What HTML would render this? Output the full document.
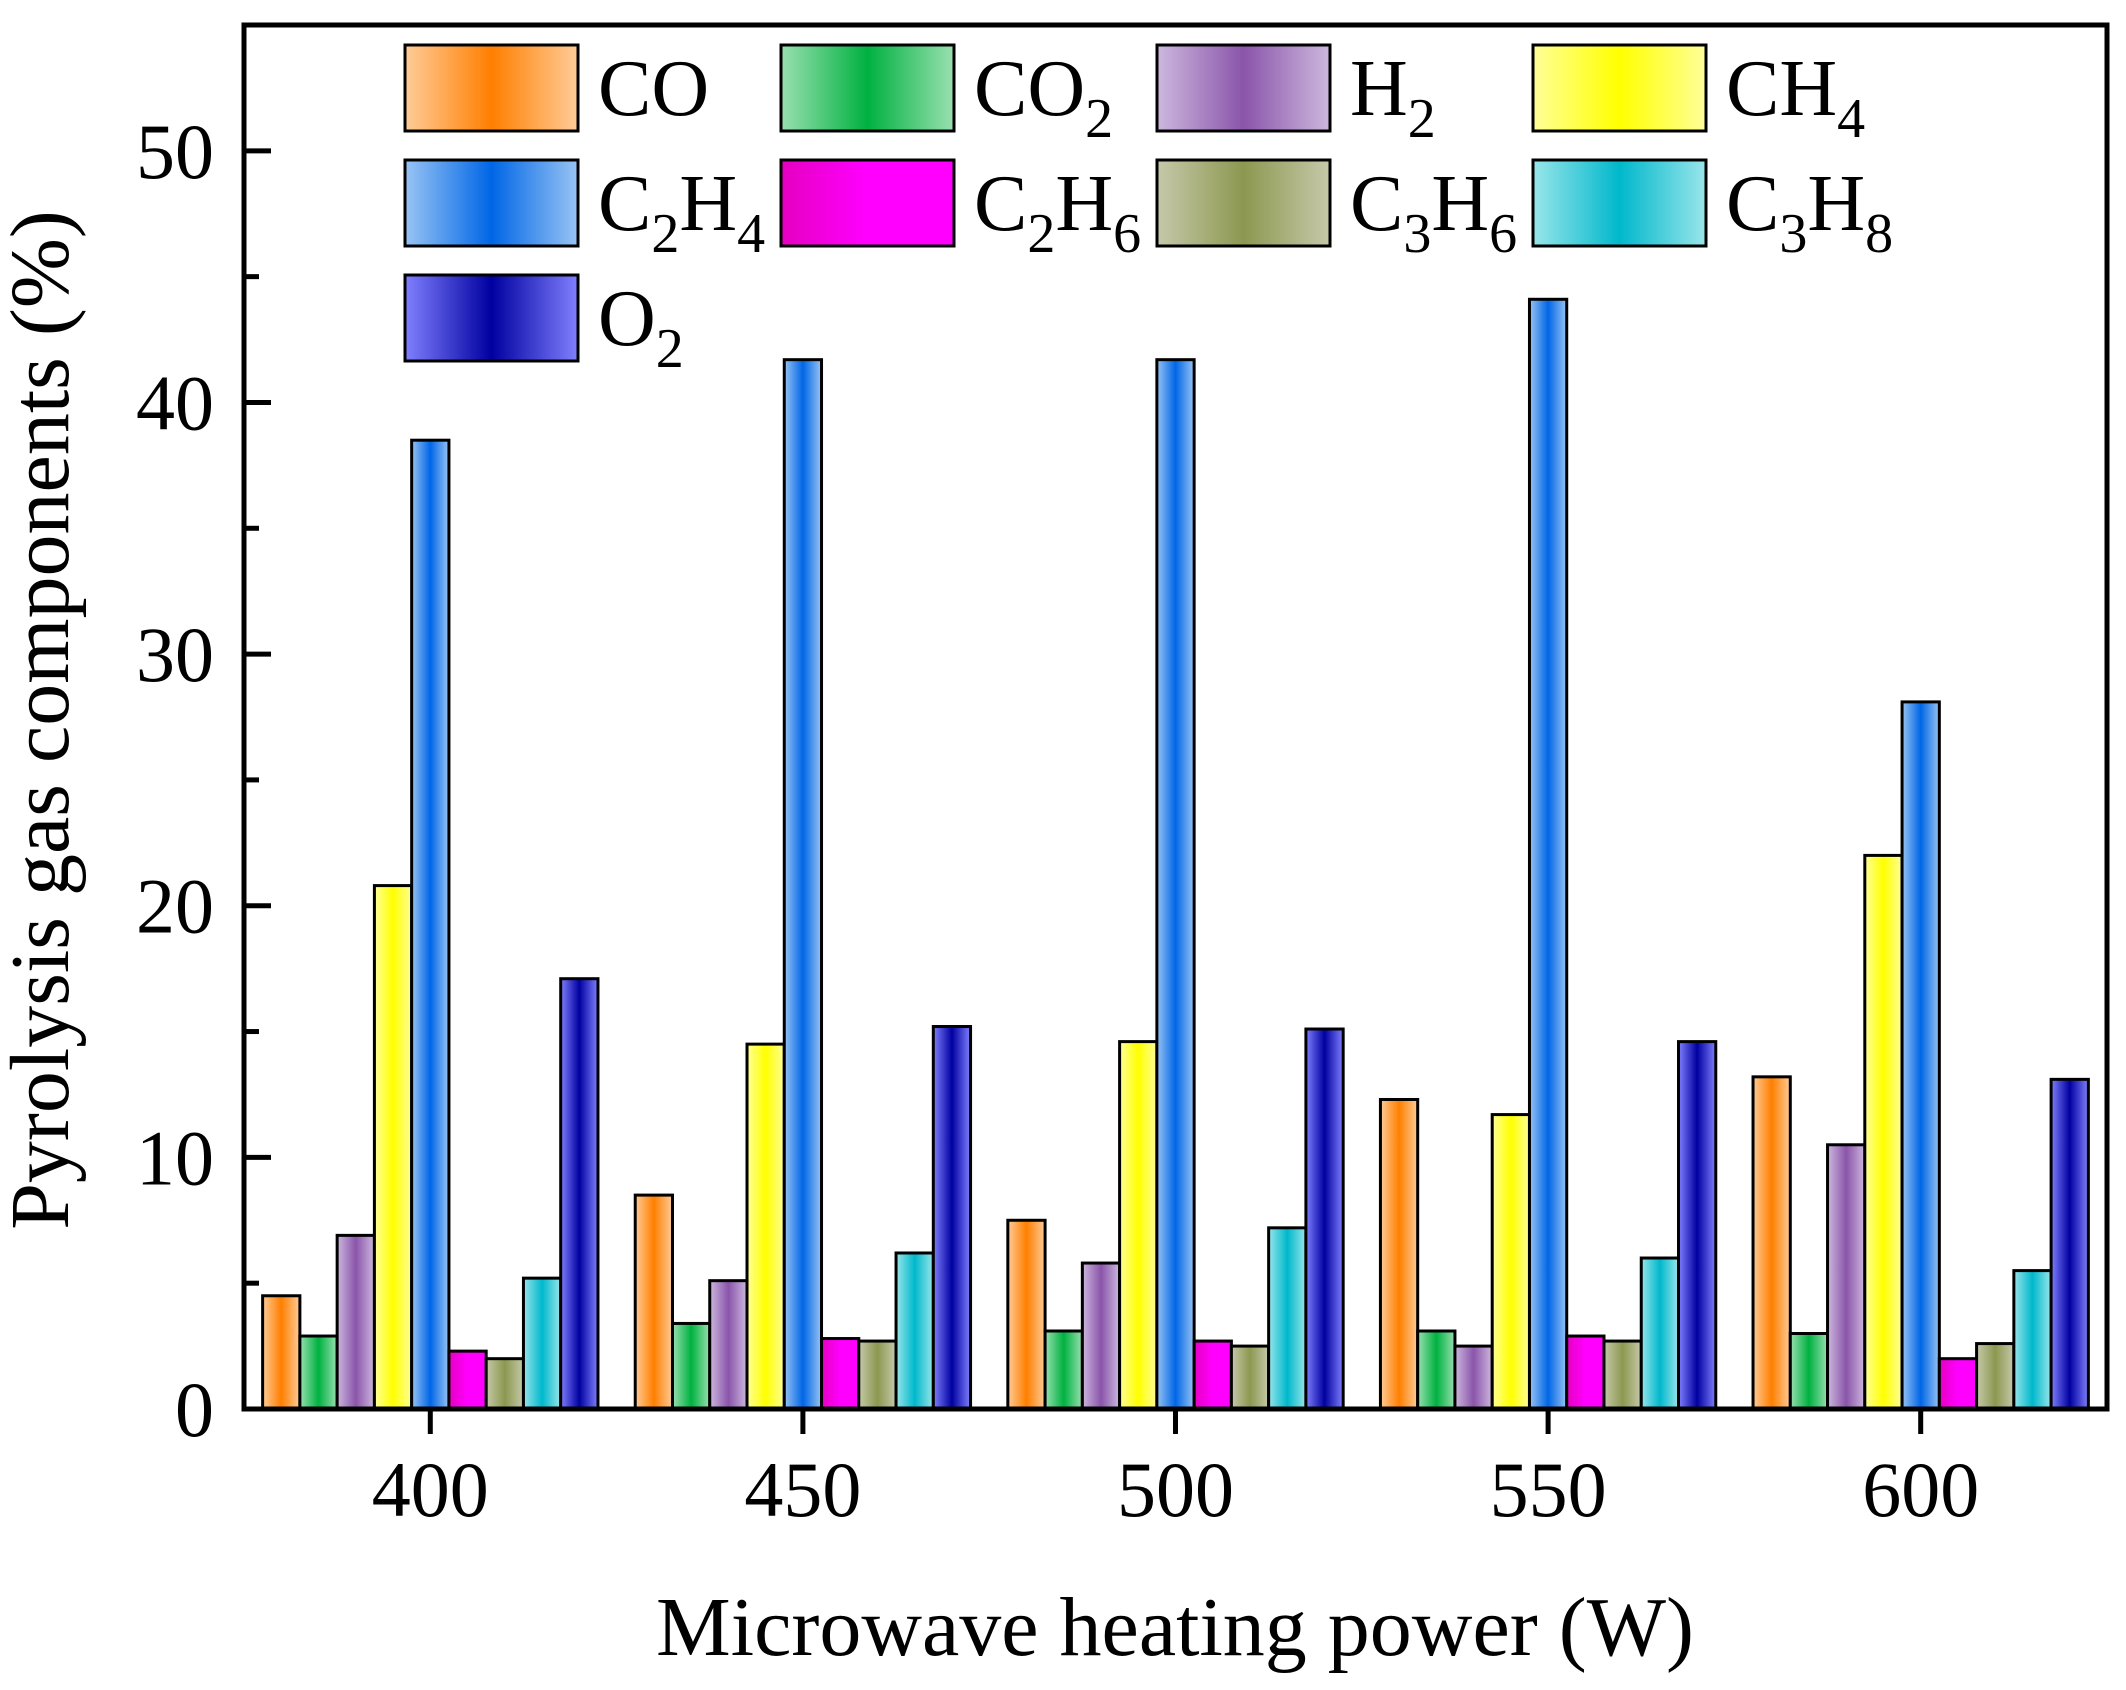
<!DOCTYPE html>
<html><head><meta charset="utf-8"><style>
html,body{margin:0;padding:0;background:#fff;}
svg{display:block;font-family:"Liberation Serif",serif;}
</style></head><body>
<svg id="chart" width="2126" height="1690" viewBox="0 0 2126 1690" xmlns="http://www.w3.org/2000/svg">
<defs id="defs"></defs>
<g id="bars"></g>
<g id="axes"></g>
<g id="legend"></g>
<text transform="translate(68,720) rotate(-90)" text-anchor="middle" font-size="84">Pyrolysis gas components (%)</text>
<text x="1175" y="1655" text-anchor="middle" font-size="84">Microwave heating power (W)</text>
</svg>
<script>
const categories = [400, 450, 500, 550, 600];
const seriesNames = ["CO", "CO2", "H2", "CH4", "C2H4", "C2H6", "C3H6", "C3H8", "O2"];
const seriesLabels = [["CO",""],["CO","2"],["H","2"],["CH","4"],["C","2","H","4"],["C","2","H","6"],["C","3","H","6"],["C","3","H","8"],["O","2"]];
const valCO   = [4.5, 8.5, 7.5, 12.3, 13.2];
const valCO2  = [2.9, 3.4, 3.1, 3.1, 3.0];
const valH2   = [6.9, 5.1, 5.8, 2.5, 10.5];
const valCH4  = [20.8, 14.5, 14.6, 11.7, 22.0];
const valC2H4 = [38.5, 41.7, 41.7, 44.1, 28.1];
const valC2H6 = [2.3, 2.8, 2.7, 2.9, 2.0];
const valC3H6 = [2.0, 2.7, 2.5, 2.7, 2.6];
const valC3H8 = [5.2, 6.2, 7.2, 6.0, 5.5];
const valO2   = [17.1, 15.2, 15.1, 14.6, 13.1];
const yTicks = [0, 10, 20, 30, 40, 50];
const xTicks = [400, 450, 500, 550, 600];

const series = [valCO, valCO2, valH2, valCH4, valC2H4, valC2H6, valC3H6, valC3H8, valO2];
const colors = [["#ffcc99","#ff7f00"],["#99e0b0","#00b140"],["#cdb8de","#8a55aa"],["#ffff99","#ffff00"],["#99c4f4","#0066e6"],["#e600c0","#ff00ff"],["#c6c9aa","#8c9850"],["#99e6ea","#00b8cc"],["#8080ff","#0000a0"]];
const L=244, R=2107, T=25, B=1409;
const xMin=375, xMax=625, yMin=0, yMax=55;
const xs = v => L + (v - xMin) / (xMax - xMin) * (R - L);
const ys = v => B - (v - yMin) / (yMax - yMin) * (B - T);
const NS="http://www.w3.org/2000/svg";
function mk(tag, attrs, parent){const e=document.createElementNS(NS,tag);for(const k in attrs)e.setAttribute(k,attrs[k]);parent.appendChild(e);return e;}
const defs=document.getElementById('defs');
colors.forEach((c,i)=>{
  const g=mk('linearGradient',{id:'g'+i,x1:'0',x2:'1',y1:'0',y2:'0'},defs);
  if(i===5){mk('stop',{offset:'0',"stop-color":c[0]},g);mk('stop',{offset:'0.5',"stop-color":c[1]},g);mk('stop',{offset:'1',"stop-color":c[1]},g);}
  else{mk('stop',{offset:'0',"stop-color":c[0]},g);mk('stop',{offset:'0.5',"stop-color":c[1]},g);mk('stop',{offset:'1',"stop-color":c[0]},g);}
});
const bars=document.getElementById('bars');
const bw=5;
categories.forEach((cat,ci)=>{
  series.forEach((s,si)=>{
    const x0=xs(cat+(si-4.5)*bw), x1=xs(cat+(si-3.5)*bw);
    const y=ys(s[ci]);
    const r=mk('rect',{x:x0,y:y,width:x1-x0,height:B-y,fill:'url(#g'+si+')',stroke:'#000','stroke-width':3},bars);
    
    
  });
});
const axes=document.getElementById('axes');
const frame=mk('rect',{x:L,y:T,width:R-L,height:B-T,fill:'none',stroke:'#000','stroke-width':5},axes);


for(let v=0; v<=55; v+=5){
  const major = v%10===0;
  const t=mk('line',{x1:L,x2:L+(major?27:15),y1:ys(v),y2:ys(v),stroke:'#000','stroke-width':5},axes);
  
  
}
yTicks.forEach(v=>{
  const t=mk('text',{x:214,y:ys(v)+27,'text-anchor':'end','font-size':78},axes);
  t.textContent=v;
  
  
});
xTicks.forEach(v=>{
  const t=mk('line',{x1:xs(v),x2:xs(v),y1:B,y2:B+25,stroke:'#000','stroke-width':5},axes);
  
  
  const l=mk('text',{x:xs(v),y:1516,'text-anchor':'middle','font-size':78},axes);
  l.textContent=v;
  
  
});
const leg=document.getElementById('legend');
seriesLabels.forEach((parts,i)=>{
  const col=i%4, row=Math.floor(i/4);
  const bx=405+col*376, by=45+row*115;
  const g=mk('g',{},leg);
  
  
  mk('rect',{x:bx,y:by,width:173,height:86,fill:'url(#g'+i+')',stroke:'#000','stroke-width':3},g);
  const t=mk('text',{x:bx+193,y:by+70,'font-size':80},g);
  parts.forEach((p,k)=>{
    if(!p) return;
    const ts=mk('tspan',{},t);
    if(k%2===1){ts.setAttribute('font-size','56');ts.setAttribute('dy','22');}
    else if(k>0){ts.setAttribute('dy','-22');}
    ts.textContent=p;
  });
});
</script>
</body></html>
